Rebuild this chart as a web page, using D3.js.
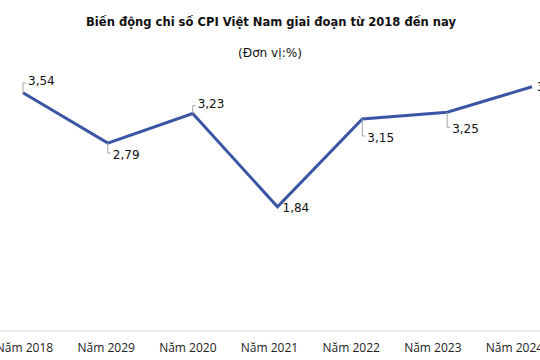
<!DOCTYPE html>
<html><head><meta charset="utf-8">
<script src="https://cdn.jsdelivr.net/npm/d3@7"></script>
<style>html,body{margin:0;padding:0;background:#fff;overflow:hidden}</style>
</head><body>
<svg id="c" width="540" height="360"></svg>
<script>
const categories = ["Năm 2018","Năm 2029","Năm 2020","Năm 2021","Năm 2022","Năm 2023","Năm 2024"];
const values = [3.54, 2.79, 3.23, 1.84, 3.15, 3.25, 3.63];
const valueLabels = ["3,54","2,79","3,23","1,84","3,15","3,25","3,63"];
const title = "Biến động chi số CPI Việt Nam giai đoạn từ 2018 đến nay";
const subtitle = "(Đơn vị:%)";

// layout (not data)
const labelDy = [-12, 12, -10, 1, 19, 17, 0];
const labelLeader = [true, true, true, false, true, true, false];

const svg = d3.select("#c");
const font = "'DejaVu Sans', Verdana, sans-serif";

const x = d3.scalePoint().domain(categories).range([23, 532]);
const xl = d3.scalePoint().domain(categories).range([24, 514]);
const y = d3.scaleLinear().domain([0, 4]).range([330, 62]);

function fitText(sel, w) {
  const cur = sel.node().getComputedTextLength();
  const fs = parseFloat(sel.attr("font-size"));
  sel.attr("font-size", (fs * w / cur).toFixed(2));
}

const t = svg.append("text").attr("x", 271).attr("y", 26).attr("text-anchor","middle")
  .attr("font-family", font).attr("font-weight","bold").attr("font-size", 13)
  .attr("fill","#111").text(title);
fitText(t, 370);
const st = svg.append("text").attr("x", 270).attr("y", 57).attr("text-anchor","middle")
  .attr("font-family", font).attr("font-size", 12).attr("fill","#111").text(subtitle);
fitText(st, 64);

// axis baseline
svg.append("line").attr("x1",0).attr("x2",540).attr("y1",y(0)+1).attr("y2",y(0)+1)
  .attr("stroke","#d9d9d9").attr("stroke-width",1);

// x labels
const xg = svg.append("g").attr("transform",`translate(0,${y(0)+1})`)
  .call(d3.axisBottom(xl).tickSize(0).tickPadding(12));
xg.select(".domain").remove();
xg.selectAll("text").attr("font-family","'Open Sans', sans-serif").attr("font-size",12).attr("fill","#222");

// line
const line = d3.line().x((d,i)=>x(categories[i])).y(d=>y(d));
svg.append("path").datum(values).attr("d", line).attr("fill","none")
  .attr("stroke","#3a55a4").attr("stroke-width",3).attr("stroke-linejoin","miter");

// data labels with leaders
values.forEach((v,i)=>{
  const px = x(categories[i]), py = y(v), ly = py + labelDy[i];
  if (labelLeader[i]) {
    const off = labelDy[i] < 0 ? 2 : -2;
    svg.append("path").attr("d", `M${px},${py}V${ly+off}H${px+3}`)
      .attr("fill","none").attr("stroke","#a6a6a6").attr("stroke-width",1);
  }
  svg.append("text").attr("x", px + 5).attr("y", ly).attr("dy","0.35em")
    .attr("font-family", font).attr("font-size", 12).attr("fill","#111")
    .text(valueLabels[i]);
});
</script>
</body></html>
